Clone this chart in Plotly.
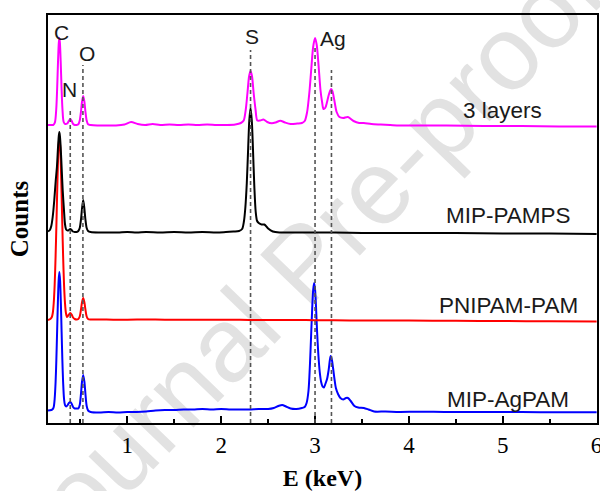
import plotly.graph_objects as go

# ---- EDX spectra: energy (keV) and counts above each spectrum's own baseline (arb. units)
E_3LAYERS = [0.155, 0.19, 0.21, 0.228, 0.243, 0.253, 0.262, 0.270, 0.276, 0.282, 0.290, 0.299, 0.309,
             0.322, 0.338, 0.36, 0.376, 0.392, 0.408, 0.423, 0.44, 0.46, 0.478, 0.493, 0.507, 0.517,
             0.53, 0.543, 0.553, 0.567, 0.582, 0.61, 0.68, 0.78, 0.88, 0.97, 1.04, 1.11, 1.19, 1.27,
             1.35, 1.45, 1.55, 1.65, 1.75, 1.85, 1.95, 2.05, 2.15, 2.21, 2.24, 2.262, 2.28, 2.298,
             2.313, 2.328, 2.346, 2.366, 2.385, 2.415, 2.45, 2.49, 2.54, 2.58, 2.63, 2.68, 2.74, 2.81,
             2.86, 2.89, 2.915, 2.94, 2.96, 2.98, 3.0, 3.018, 3.038, 3.058, 3.075, 3.09, 3.108, 3.128,
             3.146, 3.16, 3.172, 3.185, 3.205, 3.23, 3.26, 3.3, 3.35, 3.41, 3.47, 3.52, 3.6, 3.7, 3.8,
             3.9, 4.1, 4.4, 4.8, 5.2, 5.6, 6.0]
C_3LAYERS = [1, 1, 1, 3.3, 17, 39, 65, 83, 88, 83, 65, 39, 17,
             4, 2, 2.5, 5, 7, 5, 2, 1, 1, 1.7, 5.5, 15, 24,
             30, 24, 15, 5.5, 1.7, 1, 0.5, 0.5, 0.5, 1.5, 4, 2, 1, 2,
             1, 1.5, 1, 1.5, 1, 1.5, 1, 1, 1.5, 3, 5.5, 16.5, 33, 50,
             55, 50, 33, 16.5, 5.5, 5.5, 6.5, 4, 2.7, 3.5, 5.3, 3.5, 2, 2.5,
             3, 5, 13.6, 34, 57, 79, 88, 81, 60, 36, 24, 17, 18, 24,
             31, 35, 37, 35, 26, 14, 9, 8, 9, 5, 3, 3, 2, 1.5, 1,
             0.5, 0.5, 0.5, 0, 0, -0.5, -0.5]

E_PAMPS = [0.155, 0.175, 0.19, 0.205, 0.222, 0.237, 0.25, 0.262, 0.27, 0.276, 0.282, 0.29, 0.30,
           0.312, 0.325, 0.336, 0.348, 0.365, 0.378, 0.392, 0.406, 0.42, 0.44, 0.46, 0.478, 0.493,
           0.507, 0.517, 0.53, 0.543, 0.553, 0.567, 0.582, 0.61, 0.7, 0.8, 0.9, 1.0, 1.1, 1.2, 1.35,
           1.5, 1.65, 1.8, 1.95, 2.05, 2.13, 2.19, 2.223, 2.243, 2.258, 2.273, 2.288, 2.30, 2.313,
           2.326, 2.338, 2.353, 2.368, 2.383, 2.40, 2.43, 2.46, 2.5, 2.55, 2.62, 2.8, 3.0, 3.2, 3.5,
           4.0, 4.5, 5.0, 5.5, 6.0]
C_PAMPS = [1.5, 3, 7, 16, 33, 52, 66, 86, 97, 101, 97, 86, 66,
           42, 23, 9, 3.5, 2.5, 3, 4, 3, 1.5, 1, 1, 2, 5,
           14, 24, 33, 24, 14, 5, 2, 1, 0.5, 0.5, 0.5, 1, 0.5, 1, 0.5,
           1, 0.5, 1, 0.5, 1, 1.5, 2, 4, 12, 26, 50, 86, 113, 125,
           113, 86, 47, 21, 12, 10, 8.5, 8.5, 4.5, 1.5, 0.5, 0.5, 0.5, 0.5, 0,
           0, 0, -0.5, -0.5, -1]

E_PNIPAM = [0.155, 0.18, 0.196, 0.206, 0.216, 0.226, 0.236, 0.244, 0.252, 0.26, 0.268, 0.276, 0.284,
            0.292, 0.30, 0.308, 0.316, 0.326, 0.336, 0.346, 0.358, 0.375, 0.392, 0.407, 0.422, 0.44,
            0.46, 0.478, 0.493, 0.507, 0.517, 0.53, 0.543, 0.553, 0.567, 0.582, 0.61, 0.7, 0.85, 1.0,
            1.2, 1.4, 1.6, 1.8, 2.0, 2.2, 2.4, 2.6, 2.8, 3.0, 3.2, 3.5, 4.0, 4.5, 5.0, 5.5, 6.0]
C_PNIPAM = [0, 1, 3, 7, 17, 35, 64, 93, 125, 154, 175, 182, 175,
            154, 125, 93, 64, 35, 17, 7, 3, 5, 7, 5.5, 2.5, 1,
            0.5, 1, 3.5, 11, 17.5, 22, 17.5, 11, 3.5, 1, 0.5, 0.5, 0.3, 0.3,
            0.5, 0.3, 0.3, 0.2, 0.2, 0.2, 0, 0, 0, -0.2, -0.3, -0.5, -0.6, -0.8, -1, -1.3, -1.6]

E_AGPAM = [0.155, 0.19, 0.206, 0.216, 0.226, 0.236, 0.244, 0.252, 0.26, 0.268, 0.276, 0.284, 0.292,
           0.30, 0.308, 0.316, 0.326, 0.336, 0.35, 0.365, 0.378, 0.392, 0.406, 0.422, 0.44, 0.46,
           0.478, 0.493, 0.507, 0.517, 0.53, 0.543, 0.553, 0.567, 0.582, 0.61, 0.7, 0.8, 0.9, 1.0,
           1.1, 1.2, 1.3, 1.4, 1.5, 1.6, 1.7, 1.8, 1.9, 2.0, 2.1, 2.2, 2.3, 2.4, 2.5, 2.56, 2.61,
           2.65, 2.69, 2.74, 2.8, 2.86, 2.89, 2.91, 2.93, 2.945, 2.958, 2.97, 2.98, 2.99, 3.0, 3.01,
           3.022, 3.035, 3.05, 3.065, 3.08, 3.094, 3.11, 3.128, 3.145, 3.158, 3.167, 3.178, 3.192,
           3.207, 3.222, 3.245, 3.27, 3.3, 3.33, 3.35, 3.38, 3.42, 3.46, 3.52, 3.57, 3.63, 3.75, 3.9,
           4.1, 4.4, 4.8, 5.2, 5.6, 6.0]
C_AGPAM = [1.5, 2, 3, 5, 13, 30, 52, 80, 109, 131, 140, 131, 109,
           80, 52, 30, 13, 7, 5.5, 7, 9, 10, 8.5, 5, 3.5, 3.5,
           3.5, 7, 19, 30, 37, 30, 19, 6, 1.5, 0, -0.5, 0, -0.5, 0,
           0, 0.5, 1.5, 2, 2, 2.5, 2.5, 3, 2.5, 3, 2.5, 2.5, 2.5, 3, 3, 4, 6,
           7, 5.5, 3.5, 3, 4, 5, 9, 21, 46, 76, 104, 122, 129, 123, 106,
           80, 58, 40, 30, 25.5, 24.5, 28, 33, 42, 52, 56, 53, 44,
           33, 24, 18, 14, 12.5, 14, 14, 11, 6, 4.5, 4, 2.5, 0.5, 0.5, 0,
           0.3, 0, 0, 0, -0.3, -0.3]

SAMPLES = ["3 layers", "MIP-PAMPS", "PNIPAM-PAM", "MIP-AgPAM"]
COLORS = ["#ff00ff", "#000000", "#ff0000", "#0000ff"]
# vertical stacking of the spectra
STACK_OFFSETS = [297, 190, 103, 11]

# characteristic lines marked by dashed guides: N K, O K, S K, Ag L-alpha, Ag L-beta
GUIDE_ENERGIES = [0.392, 0.527, 2.313, 3.0, 3.175]
GUIDE_TOPS = [315, 358, 373, 375, 353]

# element labels
ELEMENTS = ["C", "N", "O", "S", "Ag"]
ELEMENT_POS = [(0.304, 391), (0.389, 334), (0.572, 370), (2.328, 387), (3.186, 385)]
SAMPLE_LABEL_POS = [(4.997, 313), (5.061, 208), (5.059, 118), (5.059, 24)]

spectra = [(E_3LAYERS, C_3LAYERS), (E_PAMPS, C_PAMPS), (E_PNIPAM, C_PNIPAM), (E_AGPAM, C_AGPAM)]
for e, c in spectra:
    assert len(e) == len(c)

fig = go.Figure()

# draw bottom spectrum first so upper ones sit on top
for i in [3, 2, 1, 0]:
    e, c = spectra[i]
    fig.add_trace(go.Scatter(
        x=e, y=[v + STACK_OFFSETS[i] for v in c], mode="lines",
        line=dict(color=COLORS[i], width=2, shape="spline", smoothing=0.8),
        name=SAMPLES[i], showlegend=False, hoverinfo="skip"))

for en, top in zip(GUIDE_ENERGIES, GUIDE_TOPS):
    fig.add_shape(type="line", xref="x", yref="y", x0=en, x1=en, y0=0, y1=top,
                  line=dict(color="#555555", width=1.6, dash="4px,3px"))

for name, (x, y) in zip(ELEMENTS, ELEMENT_POS):
    fig.add_annotation(x=x, y=y, xref="x", yref="y", text=name, showarrow=False,
                       font=dict(family="Liberation Sans", size=21, color="#1a1a1a"))

for name, (x, y) in zip(SAMPLES, SAMPLE_LABEL_POS):
    fig.add_annotation(x=x, y=y, xref="x", yref="y", text=name, showarrow=False,
                       font=dict(family="Liberation Sans", size=22.5, color="#1a1a1a"))

# watermark behind the data
fig.add_shape(type="rect", xref="paper", yref="paper", x0=0.44, x1=0.46, y0=0.40, y1=0.42,
              line=dict(width=0), fillcolor="rgba(0,0,0,0)", layer="below",
              label=dict(text="Journal Pre-proof", textangle=-46, textposition="middle center",
                         font=dict(family="Liberation Sans", size=105, color="#e2e2e2")))

fig.update_xaxes(
    range=[0.155, 6.004], tick0=0, dtick=1, ticks="inside", ticklen=7, tickwidth=1.8,
    tickcolor="black", minor=dict(dtick=0.5, ticks="inside", ticklen=4.5, tickwidth=1.5, tickcolor="black"),
    showline=True, linewidth=2, linecolor="black", mirror=True, showgrid=False, zeroline=False,
    ticklabeloverflow="allow",
    tickfont=dict(family="Liberation Serif", size=23, color="black"),
    title=dict(text="<b>E (keV)</b>", font=dict(family="Liberation Serif", size=24, color="black"),
               standoff=17),
    automargin=False)
fig.update_yaxes(
    range=[0, 408], showticklabels=False, ticks="", showline=True, linewidth=2,
    linecolor="black", mirror=True, showgrid=False, zeroline=False,
    title=dict(text="<b>Counts</b>", font=dict(family="Liberation Serif", size=25, color="black"),
               standoff=10),
    automargin=False)

fig.update_layout(
    width=600, height=491, autosize=False,
    margin=dict(l=48, r=3, t=15, b=68),
    paper_bgcolor="white", plot_bgcolor="white")

fig.write_html("out.html")
